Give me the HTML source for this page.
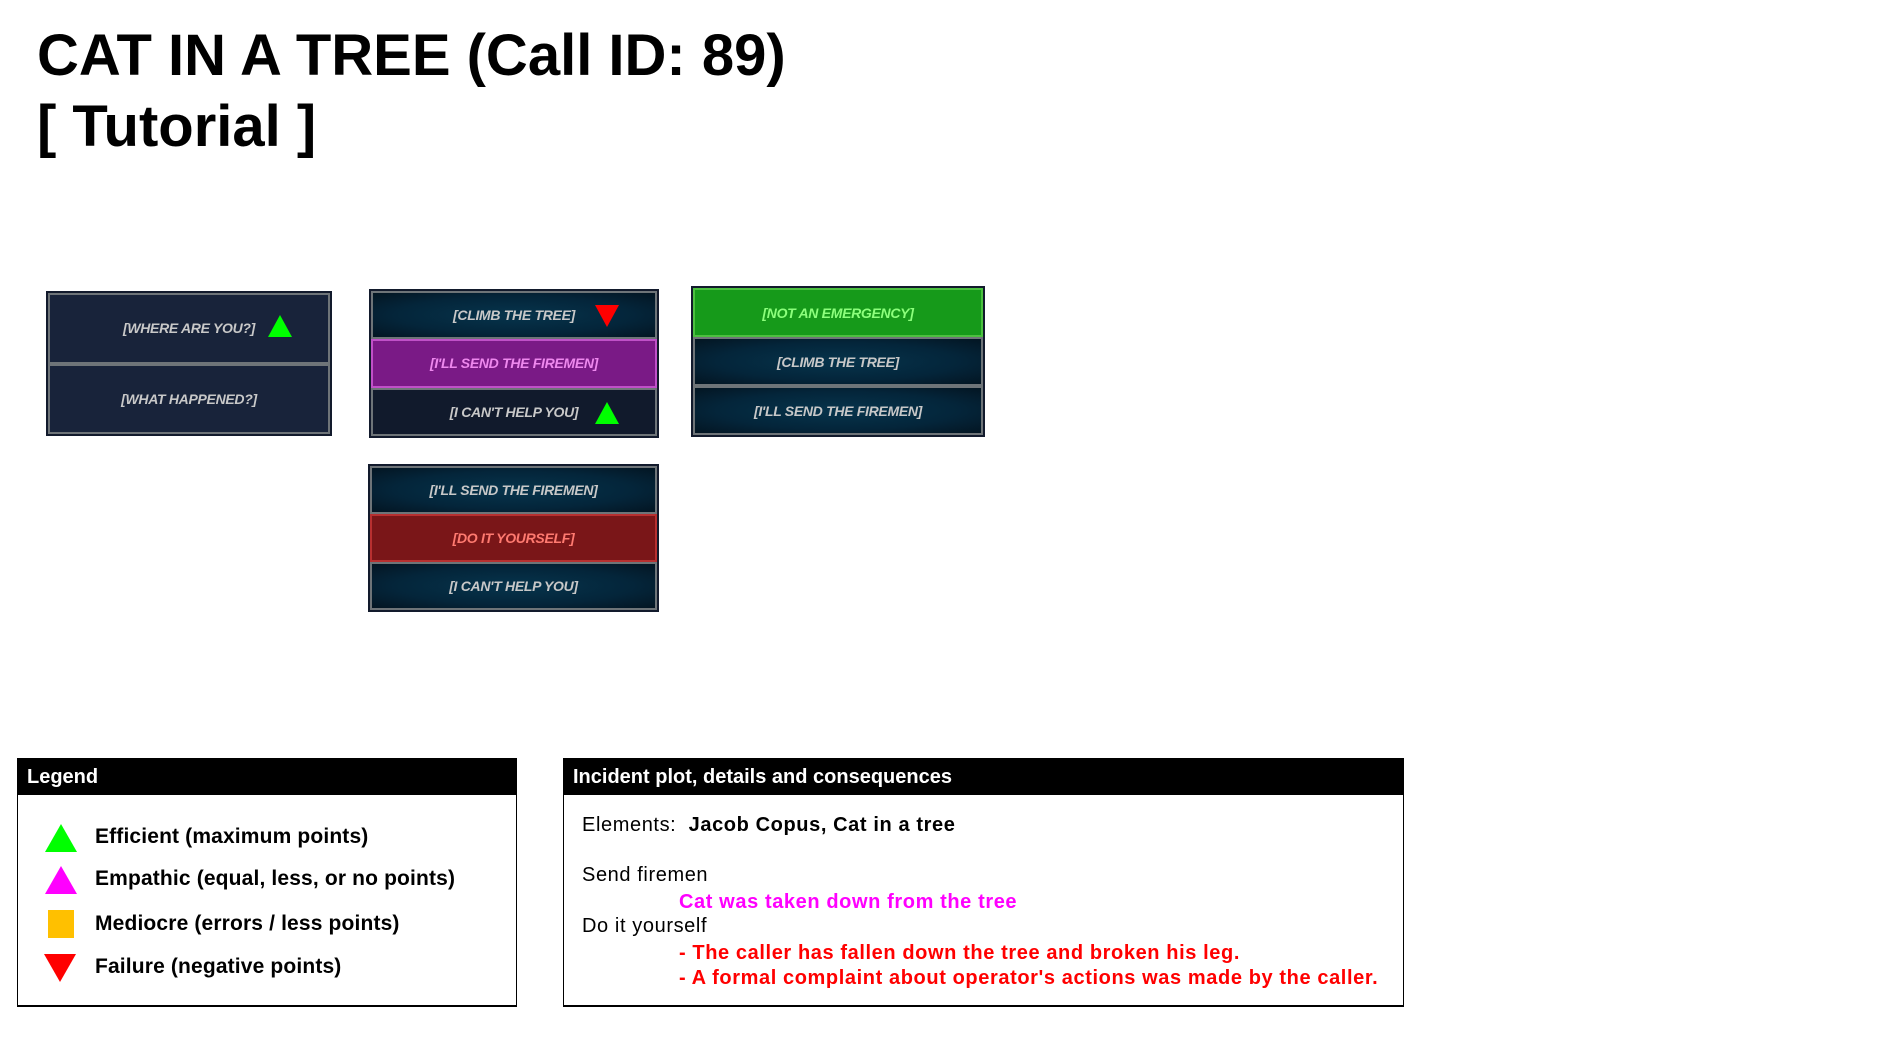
<!DOCTYPE html>
<html><head><meta charset="utf-8"><style>
*{margin:0;padding:0;box-sizing:border-box}
body{width:1884px;height:1044px;background:#fff;position:relative;overflow:hidden;font-family:"Liberation Sans",sans-serif}
.t{position:absolute;left:37px;font-weight:bold;font-size:58px;color:#000;line-height:1}
.grp{position:absolute;background:#121a2c;padding:2px;display:flex;flex-direction:column}
.b{position:relative;flex:1;border:2px solid #6e7478;display:flex;align-items:center;justify-content:center;font-family:"Liberation Sans Narrow","Liberation Sans",sans-serif;font-style:italic;font-weight:bold;font-size:14px;color:#c8c8c8;letter-spacing:-0.3px}
.navy{background:#18233a}
.teal{background:radial-gradient(ellipse at center,#06344c 0%,#04253a 60%,#031522 100%)}
.dark{background:#111a2c}
.pur{background:#7a1a86;color:#ee88ee;border-color:#c050c8}
.red{background:#7a1618;color:#ff7a70;border-color:#b83030}
.grn{background:#169a1a;color:#8cff7c;border-color:#4cc040}
.up{width:0;height:0;border-left:12px solid transparent;border-right:12px solid transparent;border-bottom:22px solid #00ff00;position:absolute}
.dn{width:0;height:0;border-left:12px solid transparent;border-right:12px solid transparent;border-top:22px solid #ff0000;position:absolute}
.box{position:absolute;border:1.5px solid #000;border-bottom-width:2px}
.hd{background:#000;color:#fff;font-weight:bold;font-size:20px;height:36px;line-height:36px;padding-left:9px}
.tx{position:absolute;font-size:20px;white-space:nowrap;letter-spacing:0.6px}
.lg{font-size:21px;font-weight:bold;letter-spacing:0.15px}
</style></head><body>
<div class="t" style="top:27px">CAT IN A TREE (Call ID: 89)</div>
<div class="t" style="top:98px">[ Tutorial ]</div>

<div class="grp" style="left:46px;top:291px;width:286px;height:145px">
 <div class="b navy">[WHERE ARE YOU?]<span class="up" style="left:218px;top:20px"></span></div>
 <div class="b navy">[WHAT HAPPENED?]</div>
</div>

<div class="grp" style="left:369px;top:289px;width:290px;height:149px">
 <div class="b teal">[CLIMB THE TREE]<span class="dn" style="left:222px;top:12px"></span></div>
 <div class="b pur">[I'LL SEND THE FIREMEN]</div>
 <div class="b dark">[I CAN'T HELP YOU]<span class="up" style="left:222px;top:12px"></span></div>
</div>

<div class="grp" style="left:691px;top:286px;width:294px;height:151px">
 <div class="b grn">[NOT AN EMERGENCY]</div>
 <div class="b teal">[CLIMB THE TREE]</div>
 <div class="b teal">[I'LL SEND THE FIREMEN]</div>
</div>

<div class="grp" style="left:368px;top:464px;width:291px;height:148px">
 <div class="b teal">[I'LL SEND THE FIREMEN]</div>
 <div class="b red">[DO IT YOURSELF]</div>
 <div class="b teal">[I CAN'T HELP YOU]</div>
</div>

<div class="box" style="left:17px;top:758px;width:500px;height:249px">
 <div class="hd">Legend</div>
</div>
<div class="up" style="left:45px;top:824px;border-left-width:16px;border-right-width:16px;border-bottom-width:28px"></div>
<div class="up" style="left:45px;top:866px;border-left-width:16px;border-right-width:16px;border-bottom-width:28px;border-bottom-color:#ff00ff"></div>
<div style="position:absolute;left:48px;top:910px;width:26px;height:28px;background:#ffc000"></div>
<div class="dn" style="left:44px;top:954px;border-left-width:16px;border-right-width:16px;border-top-width:28px"></div>
<div class="tx lg" style="left:95px;top:825px">Efficient (maximum points)</div>
<div class="tx lg" style="left:95px;top:867px">Empathic (equal, less, or no points)</div>
<div class="tx lg" style="left:95px;top:912px">Mediocre (errors / less points)</div>
<div class="tx lg" style="left:95px;top:955px">Failure (negative points)</div>

<div class="box" style="left:563px;top:758px;width:841px;height:249px">
 <div class="hd">Incident plot, details and consequences</div>
</div>
<div class="tx" style="left:582px;top:814px">Elements:&nbsp; <b>Jacob Copus, Cat in a tree</b></div>
<div class="tx" style="left:582px;top:864px">Send firemen</div>
<div class="tx" style="left:679px;top:891px;color:#ff00ff;font-weight:bold">Cat was taken down from the tree</div>
<div class="tx" style="left:582px;top:915px">Do it yourself</div>
<div class="tx" style="left:679px;top:942px;color:#ff0000;font-weight:bold">- The caller has fallen down the tree and broken his leg.</div>
<div class="tx" style="left:679px;top:967px;color:#ff0000;font-weight:bold">- A formal complaint about operator's actions was made by the caller.</div>
</body></html>
